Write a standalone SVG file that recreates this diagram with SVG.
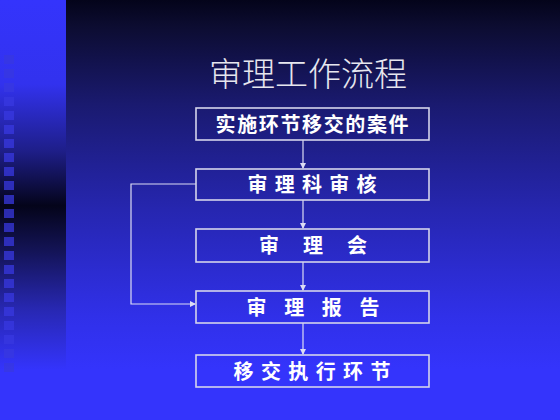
<svg xmlns="http://www.w3.org/2000/svg" width="560" height="420" viewBox="0 0 560 420">
<defs>
<linearGradient id="bgMain" x1="0" y1="0" x2="0" y2="1">
<stop offset="0" stop-color="#04041a"/>
<stop offset="0.06" stop-color="#0c0c30"/>
<stop offset="0.25" stop-color="#1a1a70"/>
<stop offset="0.5" stop-color="#2626b0"/>
<stop offset="0.75" stop-color="#3030e8"/>
<stop offset="0.88" stop-color="#3434fc"/>
<stop offset="1" stop-color="#3434fc"/>
</linearGradient>
<linearGradient id="bgLeft" x1="0" y1="0" x2="0" y2="1">
<stop offset="0" stop-color="#3434fc"/>
<stop offset="0.2" stop-color="#3232ee"/>
<stop offset="0.36" stop-color="#1e1e88"/>
<stop offset="0.49" stop-color="#04041a"/>
<stop offset="0.6" stop-color="#141458"/>
<stop offset="0.74" stop-color="#2828b4"/>
<stop offset="0.88" stop-color="#3434fc"/>
<stop offset="1" stop-color="#3434fc"/>
</linearGradient>
<marker id="arr" markerWidth="6" markerHeight="6" refX="5" refY="3" orient="auto" markerUnits="userSpaceOnUse">
<path d="M0,0 L6,3 L0,6 Z" fill="#dcdcf4"/>
</marker>
<style>
.box{fill:none;stroke:#d4d4ec;stroke-width:1.6}
.lbl{font-family:"Noto Sans CJK SC","Noto Sans CJK TC",sans-serif;font-weight:bold;font-size:20px;fill:#ffffff;text-anchor:middle}
.conn{fill:none;stroke:#dcdcf4;stroke-width:1.2}
.sq{fill:#3838e0;opacity:0.75}
</style>
</defs>
<rect x="0" y="0" width="560" height="420" fill="url(#bgMain)"/>
<rect x="0" y="0" width="66" height="420" fill="url(#bgLeft)"/>
<g id="squares">
<rect class="sq" x="4" y="55" width="10" height="9" opacity="0.3"/>
<rect class="sq" x="4" y="69" width="10" height="9" opacity="0.4"/>
<rect class="sq" x="4" y="83" width="10" height="9" opacity="0.5"/>
<rect class="sq" x="4" y="97" width="10" height="9"/>
<rect class="sq" x="4" y="111" width="10" height="9"/>
<rect class="sq" x="4" y="125" width="10" height="9"/>
<rect class="sq" x="4" y="139" width="10" height="9"/>
<rect class="sq" x="4" y="153" width="10" height="9"/>
<rect class="sq" x="4" y="167" width="10" height="9"/>
<rect class="sq" x="4" y="181" width="10" height="9"/>
<rect class="sq" x="4" y="195" width="10" height="9"/>
<rect class="sq" x="4" y="209" width="10" height="9"/>
<rect class="sq" x="4" y="223" width="10" height="9"/>
<rect class="sq" x="4" y="237" width="10" height="9"/>
<rect class="sq" x="4" y="251" width="10" height="9"/>
<rect class="sq" x="4" y="265" width="10" height="9"/>
<rect class="sq" x="4" y="279" width="10" height="9"/>
<rect class="sq" x="4" y="293" width="10" height="9"/>
<rect class="sq" x="4" y="307" width="10" height="9"/>
<rect class="sq" x="4" y="321" width="10" height="9" opacity="0.6"/>
<rect class="sq" x="4" y="335" width="10" height="9" opacity="0.5"/>
<rect class="sq" x="4" y="349" width="10" height="9" opacity="0.4"/>
<rect class="sq" x="4" y="363" width="10" height="9" opacity="0.3"/>
</g>
<text id="title" x="308" y="86" font-family="Noto Sans CJK SC, sans-serif" font-size="33" fill="#e6e6ee" text-anchor="middle" font-weight="300">审理工作流程</text>
<g id="connectors">
<line class="conn" x1="303" y1="140" x2="303" y2="168" marker-end="url(#arr)"/>
<line class="conn" x1="303" y1="200" x2="303" y2="228" marker-end="url(#arr)"/>
<line class="conn" x1="303" y1="262" x2="303" y2="290" marker-end="url(#arr)"/>
<line class="conn" x1="303" y1="323" x2="303" y2="354" marker-end="url(#arr)"/>
<polyline class="conn" points="196,184 131,184 131,304 195,304" marker-end="url(#arr)"/>
</g>
<g id="n1"><rect class="box" x="196" y="108" width="233" height="32"/><text class="lbl" x="312" y="132" textLength="193" lengthAdjust="spacing">实施环节移交的案件</text></g>
<g id="n2"><rect class="box" x="196" y="169" width="233" height="31"/><text class="lbl" x="312" y="192" textLength="129" lengthAdjust="spacing">审 理 科 审 核</text></g>
<g id="n3"><rect class="box" x="196" y="229" width="233" height="33"/><text class="lbl" x="313" y="253" textLength="108" lengthAdjust="spacing">审　理　会</text></g>
<g id="n4"><rect class="box" x="196" y="291" width="233" height="32"/><text class="lbl" x="313" y="315" textLength="133" lengthAdjust="spacing">审 理 报 告</text></g>
<g id="n5"><rect class="box" x="196" y="355" width="233" height="32"/><text class="lbl" x="312" y="379" textLength="157" lengthAdjust="spacing">移交执行环节</text></g>
</svg>
